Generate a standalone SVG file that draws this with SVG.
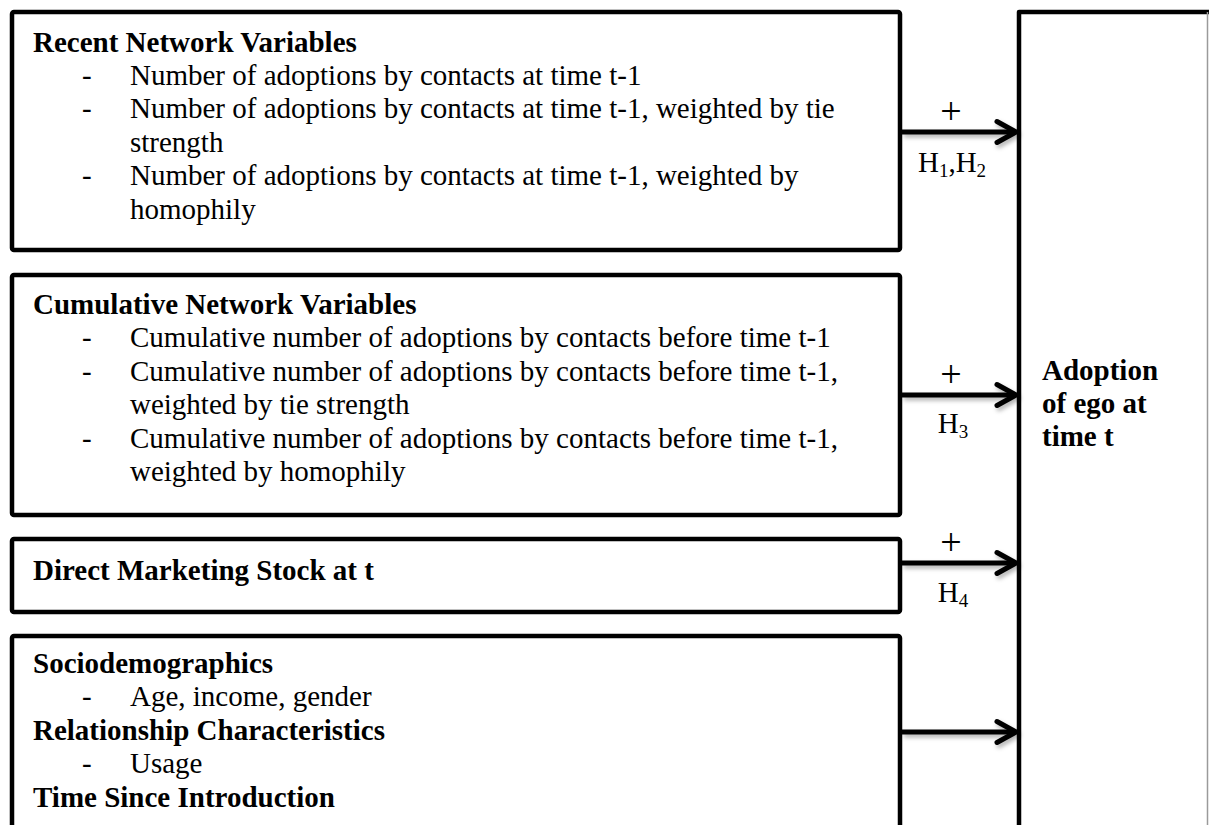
<svg xmlns="http://www.w3.org/2000/svg" width="1209" height="825" viewBox="0 0 1209 825">
<style>
  text { font-family: "Liberation Serif", "Times New Roman", serif; font-size: 29px; fill: #000; }
  .b { font-weight: bold; }
  .box { fill: #fff; stroke: #000; stroke-width: 4.5; stroke-linejoin: round; }
  .arr { stroke: #000; stroke-width: 5; fill: none; }
  .lbl { text-anchor: middle; }
  .plus { text-anchor: middle; font-size: 38px; }
  .sub { font-size: 19px; }
</style>
<defs>
  <filter id="sh" filterUnits="userSpaceOnUse" x="0" y="0" width="1209" height="825">
    <feDropShadow dx="2" dy="3" stdDeviation="2" flood-color="#000" flood-opacity="0.3"/>
  </filter>
  <marker id="chev" markerUnits="userSpaceOnUse" markerWidth="28" markerHeight="30" refX="21" refY="14" orient="auto" overflow="visible">
    <path d="M2,3.5 L21,14 L2,24.5" fill="none" stroke="#000" stroke-width="5" stroke-linecap="round" stroke-linejoin="round"/>
  </marker>
</defs>
<rect width="1209" height="825" fill="#fff"/>

<g id="recent">
  <rect class="box" x="12" y="12" width="888" height="238" rx="2"/>
  <text class="b" x="33" y="52">Recent Network Variables</text>
  <text x="82" y="85">-</text><text x="130" y="85">Number of adoptions by contacts at time t-1</text>
  <text x="82" y="118">-</text><text x="130" y="118">Number of adoptions by contacts at time t-1, weighted by tie</text>
  <text x="130" y="152">strength</text>
  <text x="82" y="185">-</text><text x="130" y="185">Number of adoptions by contacts at time t-1, weighted by</text>
  <text x="130" y="219">homophily</text>
</g>

<g id="cumulative">
  <rect class="box" x="12" y="275" width="888" height="240" rx="2"/>
  <text class="b" x="33" y="314">Cumulative Network Variables</text>
  <text x="82" y="347">-</text><text x="130" y="347">Cumulative number of adoptions by contacts before time t-1</text>
  <text x="82" y="381">-</text><text x="130" y="381">Cumulative number of adoptions by contacts before time t-1,</text>
  <text x="130" y="414">weighted by tie strength</text>
  <text x="82" y="448">-</text><text x="130" y="448">Cumulative number of adoptions by contacts before time t-1,</text>
  <text x="130" y="481">weighted by homophily</text>
</g>

<g id="marketing">
  <rect class="box" x="12" y="539" width="888" height="73" rx="2"/>
  <text class="b" x="33" y="580">Direct Marketing Stock at t</text>
</g>

<g id="controls">
  <rect class="box" x="12" y="636" width="888" height="220" rx="2"/>
  <text class="b" x="33" y="673">Sociodemographics</text>
  <text x="82" y="706">-</text><text x="130" y="706">Age, income, gender</text>
  <text class="b" x="33" y="740">Relationship Characteristics</text>
  <text x="82" y="773">-</text><text x="130" y="773">Usage</text>
  <text class="b" x="33" y="807">Time Since Introduction</text>
</g>

<g id="adoption">
  <path d="M1019,840 V12 H1212" fill="none" stroke="#000" stroke-width="4.5" stroke-linejoin="round"/>
  <line x1="1207.5" y1="12" x2="1207.5" y2="825" stroke="#9a9a9a" stroke-width="1.5"/>
  <text class="b" x="1042" y="380">Adoption</text>
  <text class="b" x="1042" y="413">of ego at</text>
  <text class="b" x="1042" y="446">time t</text>
</g>

<g id="connectors">
  <g filter="url(#sh)">
    <line class="arr" x1="902" y1="132" x2="1016" y2="132" marker-end="url(#chev)"/>
    <line class="arr" x1="902" y1="395" x2="1016" y2="395" marker-end="url(#chev)"/>
    <line class="arr" x1="902" y1="563" x2="1016" y2="563" marker-end="url(#chev)"/>
    <line class="arr" x1="902" y1="732" x2="1016" y2="732" marker-end="url(#chev)"/>
  </g>
  <text class="plus" x="951" y="124">+</text>
  <text class="lbl" x="952" y="172">H<tspan class="sub" dy="5">1</tspan><tspan dy="-5">,H</tspan><tspan class="sub" dy="5">2</tspan></text>
  <text class="plus" x="951" y="387">+</text>
  <text class="lbl" x="953" y="433">H<tspan class="sub" dy="5">3</tspan></text>
  <text class="plus" x="951" y="555">+</text>
  <text class="lbl" x="953" y="602">H<tspan class="sub" dy="5">4</tspan></text>
</g>
</svg>
